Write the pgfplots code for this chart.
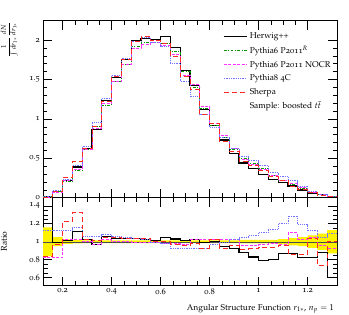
\documentclass[border=0pt]{standalone}
\usepackage[T1]{fontenc}
\usepackage[osf]{mathpazo}
\usepackage{pgfplots}
\usepackage{pgfplotstable}
\pgfplotsset{compat=1.18}
\usepgfplotslibrary{fillbetween}
\definecolor{cgreen}{rgb}{0.0,0.6,0.0}
\definecolor{cmag}{rgb}{1.0,0.2,1.0}
\definecolor{cblue}{rgb}{0.45,0.45,1.0}
\definecolor{cred}{rgb}{1.0,0.15,0.15}
\pgfplotstableread{
x hw p6 nocr p8 sh
0.12 0.020 0.010 0.0082 0.011 0.0084
0.16 0.079 0.080 0.0656 0.090 0.0776
0.20 0.213 0.210 0.214 0.235 0.258
0.24 0.389 0.350 0.357 0.404 0.466
0.28 0.622 0.610 0.610 0.647 0.628
0.32 0.869 0.900 0.873 0.954 0.909
0.36 1.234 1.170 1.193 1.264 1.223
0.40 1.529 1.470 1.470 1.551 1.536
0.44 1.758 1.690 1.690 1.766 1.758
0.48 1.992 1.915 1.896 1.982 1.982
0.52 2.019 1.970 1.950 2.029 2.049
0.56 2.010 1.990 1.970 1.970 1.990
0.60 2.048 1.960 1.931 1.921 1.960
0.64 1.906 1.850 1.813 1.702 1.795
0.68 1.616 1.600 1.552 1.472 1.536
0.72 1.428 1.400 1.436 1.288 1.372
0.76 1.119 1.130 1.153 1.051 1.051
0.80 0.920 0.920 0.944 0.892 0.938
0.84 0.732 0.770 0.785 0.762 0.716
0.88 0.561 0.610 0.626 0.628 0.586
0.92 0.440 0.500 0.480 0.523 0.458
0.96 0.365 0.440 0.422 0.471 0.405
1.00 0.292 0.370 0.359 0.407 0.346
1.04 0.228 0.285 0.278 0.325 0.266
1.08 0.196 0.225 0.218 0.270 0.216
1.12 0.148 0.170 0.187 0.218 0.146
1.16 0.098 0.120 0.124 0.143 0.103
1.20 0.056 0.068 0.071 0.076 0.071
1.24 0.035 0.040 0.038 0.042 0.029
1.28 0.009 0.015 0.014 0.016 0.015
1.32 0.009 0.015 0.014 0.016 0.015
}\maintab
\pgfplotstableread{
x hw nocr p8 sh up lo
0.12 2.00 0.82 1.12 0.84 1.16 0.84
0.16 0.99 0.82 1.12 0.97 1.05 0.95
0.20 1.015 1.02 1.12 1.23 1.025 0.975
0.24 1.11 1.02 1.155 1.33 1.02 0.98
0.28 1.02 1.00 1.06 1.03 1.015 0.985
0.32 0.965 0.97 1.06 1.01 1.015 0.985
0.36 1.055 1.02 1.08 1.045 1.015 0.985
0.40 1.04 1.00 1.055 1.045 1.015 0.985
0.44 1.04 1.00 1.045 1.04 1.015 0.985
0.48 1.04 0.99 1.035 1.035 1.015 0.985
0.52 1.025 0.99 1.03 1.04 1.015 0.985
0.56 1.01 0.99 0.99 1.00 1.015 0.985
0.60 1.045 0.985 0.98 1.00 1.015 0.985
0.64 1.03 0.98 0.92 0.97 1.015 0.985
0.68 1.01 0.97 0.92 0.96 1.015 0.985
0.72 1.02 1.026 0.92 0.98 1.015 0.985
0.76 0.99 1.02 0.93 0.93 1.015 0.985
0.80 1.00 1.026 0.97 1.02 1.015 0.985
0.84 0.95 1.02 0.99 0.93 1.015 0.985
0.88 0.92 1.026 1.03 0.96 1.015 0.985
0.92 0.88 0.96 1.045 0.915 1.02 0.98
0.96 0.83 0.96 1.07 0.92 1.02 0.98
1.00 0.79 0.97 1.10 0.935 1.02 0.98
1.04 0.80 0.975 1.14 0.935 1.02 0.98
1.08 0.87 0.97 1.20 0.96 1.03 0.97
1.12 0.87 1.10 1.285 0.86 1.04 0.96
1.16 0.82 1.03 1.19 0.86 1.05 0.95
1.20 0.82 1.05 1.12 1.04 1.07 0.93
1.24 0.88 0.96 1.05 0.73 1.09 0.91
1.28 0.60 0.92 1.09 1.00 1.13 0.87
1.32 0.60 0.92 1.09 1.00 1.13 0.87
}\ratiotab
\begin{document}
\fontsize{8.5}{10}\selectfont
\begin{tikzpicture}
\pgfplotsset{
  every axis/.append style={
    scale only axis, width=294bp,
    xmin=0.12, xmax=1.32,
    xtick={0.2,0.4,0.6,0.8,1.0,1.2}, minor x tick num=3,
    tick align=inside, xtick pos=both, ytick pos=both,
    major tick length=9bp, minor tick length=4.5bp,
    tick style={black, line width=0.5pt},
    axis line style={line width=0.6pt},
    /pgf/number format/assume math mode=true,
    ticklabel style={font=\fontsize{8.5}{10}\selectfont},
    label style={font=\fontsize{8.5}{10}\selectfont},
  },
  hist/.style={const plot, no marks, line width=0.9pt},
}
\begin{axis}[
  name=main, height=177bp,
  ymin=0, ymax=2.246,
  ytick={0,0.5,1,1.5,2}, minor y tick num=4,
  xticklabels={},
  ylabel={$\displaystyle\frac{1}{\int dr_{1*}}\frac{dN}{dr_{1*}}$},
  ylabel style={at={(axis description cs:-0.075,1.01)}, anchor=south east, font=\fontsize{7}{8}\selectfont},
  legend image code/.code={\draw[#1] (0bp,0bp) -- (23bp,0bp);},
  legend style={at={(axis description cs:0.602,0.955)}, anchor=north west, draw=none, fill=none,
    font=\fontsize{8.5}{10}\selectfont, row sep=2.2bp, legend cell align=left,
    nodes={inner xsep=2.5bp}},
]
\addplot[hist, black, line width=1.1pt] table[x=x,y=hw]{\maintab};
\addlegendentry{Herwig++}
\addplot[hist, cgreen, dash pattern=on 3pt off 1.5pt on 0.8pt off 1.5pt] table[x=x,y=p6]{\maintab};
\addlegendentry{Pythia6 P2011$^R$}
\addplot[hist, cmag, dash pattern=on 3pt off 1.5pt] table[x=x,y=nocr]{\maintab};
\addlegendentry{Pythia6 P2011 NOCR}
\addplot[hist, cblue, dash pattern=on 0.9pt off 0.9pt] table[x=x,y=p8]{\maintab};
\addlegendentry{Pythia8 4C}
\addplot[hist, cred, dash pattern=on 5pt off 3pt] table[x=x,y=sh]{\maintab};
\addlegendentry{Sherpa}
\addlegendimage{empty legend}
\addlegendentry{Sample: boosted $t\bar{t}$}
\end{axis}
\begin{axis}[
  at={(main.south west)}, anchor=north west,
  height=88bp,
  ymin=0.51, ymax=1.49,
  ytick={0.6,0.8,1,1.2,1.4}, minor y tick num=3,
  xticklabels={0.2,0.4,0.6,0.8,1,1.2},
  ylabel={Ratio},
  ylabel style={at={(axis description cs:-0.112,0.5)}, anchor=south},
  xlabel={Angular Structure Function $r_{1*}$, $n_p = 1$},
  xlabel style={at={(axis description cs:1,0)}, anchor=north east, yshift=-15.5bp},
]
\addplot[const plot, draw=none, name path=up, forget plot] table[x=x,y=up]{\ratiotab};
\addplot[const plot, draw=none, name path=lo, forget plot] table[x=x,y=lo]{\ratiotab};
\addplot[fill=yellow, draw=none] fill between[of=up and lo];
\addplot[black!70, line width=0.4pt, no marks] coordinates {(0.12,1) (1.32,1)};
\addplot[hist, black, line width=1.1pt] table[x=x,y=hw]{\ratiotab};
\addplot[hist, cmag, dash pattern=on 3pt off 1.5pt] table[x=x,y=nocr]{\ratiotab};
\addplot[hist, cblue, dash pattern=on 0.9pt off 0.9pt] table[x=x,y=p8]{\ratiotab};
\addplot[hist, cred, dash pattern=on 5pt off 3pt] table[x=x,y=sh]{\ratiotab};
\end{axis}
\pgfresetboundingbox
\path[use as bounding box] (-43bp,-117.3bp) rectangle (306bp,197.7bp);
\end{tikzpicture}
\end{document}
